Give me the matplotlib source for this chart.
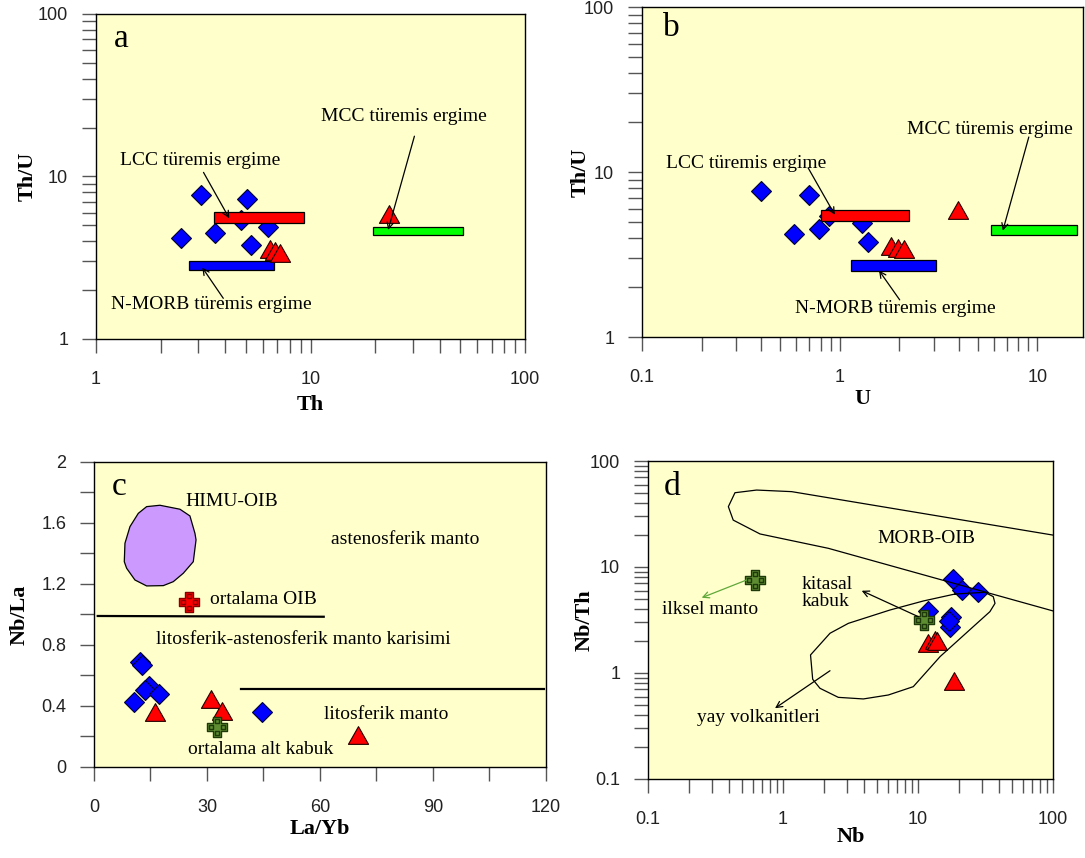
import matplotlib
matplotlib.use("Agg")
import matplotlib.pyplot as plt
from matplotlib.path import Path
from matplotlib.ticker import LogLocator, FuncFormatter, NullFormatter, MultipleLocator

# ---- data ----
# panels a and b (Th, U in ppm)
th_dia = [3.08, 5.06, 2.48, 3.57, 4.76, 6.36, 5.26]
u_dia = [0.40, 0.70, 0.59, 0.79, 0.88, 1.30, 1.39]
th_tri = [23.2, 6.5, 6.8, 7.2]
u_tri = [3.95, 1.82, 1.96, 2.12]

# melt fields: (x0, x1, y0, y1)
bars_a = {"lcc": (3.56, 9.36, 5.20, 6.02),
          "nmorb": (2.70, 6.74, 2.65, 3.02),
          "mcc": (19.5, 51.6, 4.36, 4.87)}
bars_b = {"lcc": (0.80, 2.24, 5.07, 5.85),
          "nmorb": (1.146, 3.08, 2.50, 2.94),
          "mcc": (5.79, 15.8, 4.15, 4.75)}

# panel c (La/Yb vs Nb/La)
layb_dia = [12.2, 12.7, 14.7, 13.5, 17.3, 10.7, 44.5]
nbla_dia = [0.690, 0.667, 0.531, 0.505, 0.479, 0.424, 0.363]
layb_tri = [31.2, 34.1, 16.3, 70.0]
nbla_tri = [0.448, 0.367, 0.361, 0.208]
oib_avg = (25.2, 1.084)
lower_crust = (32.7, 0.260)
himu_x = [13.98, 17.52, 22.83, 25.48, 26.81, 27.1, 26.37, 23.71, 21.06, 18.41,
          13.98, 10.88, 8.67, 8.05, 8.23, 9.56, 11.77]
himu_y = [1.707, 1.716, 1.690, 1.646, 1.532, 1.489, 1.346, 1.270, 1.215, 1.189,
          1.187, 1.226, 1.303, 1.346, 1.467, 1.576, 1.663]
line_upper_x = [1, 61]
line_upper_y = [0.990, 0.985]
line_lower_x = [39, 119.5]
line_lower_y = [0.513, 0.513]

# panel d (Nb vs Nb/Th)
nb_dia = [18.1, 21.1, 27.7, 11.8, 17.5, 17.3, 17.0]
nbth_dia = [7.65, 6.07, 5.85, 3.85, 3.35, 2.70, 3.10]
nb_tri = [11.9, 13.4, 13.9, 18.5]
nbth_tri = [1.91, 2.05, 2.00, 0.836]
prim_mantle = (0.62, 7.54)
cont_crust = (11.0, 3.16)
morb_x = [100, 1.16, 0.638, 0.441, 0.394, 0.428, 0.676, 2.17, 100]
morb_y = [20.0, 51.4, 53.2, 50.2, 37.1, 27.7, 20.5, 15.0, 3.85]
arc_x = [18.8, 31.3, 36.1, 37.2, 34.1, 25.7, 14.6, 9.23, 6.03, 3.94, 2.57, 1.88,
         1.66, 1.60, 2.23, 3.05, 6.21, 10.96, 18.8]
arc_y = [5.56, 5.77, 5.25, 4.54, 3.79, 2.74, 1.43, 0.743, 0.620, 0.569, 0.589, 0.717,
         0.872, 1.48, 2.37, 2.94, 3.93, 4.78, 5.56]

# ---- style ----
BG = "#FFFFCC"
SERIF = "Liberation Serif"
SANS = "Liberation Sans"
plt.rcParams["font.family"] = SANS

tri_marker = Path([(0, 0.88), (-1, -0.88), (1, -0.88), (0, 0.88)],
                  [Path.MOVETO, Path.LINETO, Path.LINETO, Path.CLOSEPOLY])

# plus sign with four square holes
w = 0.36
plus_v = [(-w, 1), (w, 1), (w, w), (1, w), (1, -w), (w, -w), (w, -1), (-w, -1),
          (-w, -w), (-1, -w), (-1, w), (-w, w), (-w, 1)]
plus_c = [Path.MOVETO] + [Path.LINETO] * 11 + [Path.CLOSEPOLY]
hole_v, hole_c = [], []
s = 0.19
for cx, cy in [(0, 0.6), (0.6, 0), (0, -0.6), (-0.6, 0)]:
    hole_v += [(cx - s, cy - s), (cx - s, cy + s), (cx + s, cy + s), (cx + s, cy - s), (cx - s, cy - s)]
    hole_c += [Path.MOVETO, Path.LINETO, Path.LINETO, Path.LINETO, Path.CLOSEPOLY]
plus_solid = Path(plus_v, plus_c)
plus_holes = Path(plus_v + hole_v, plus_c + hole_c)


def cross(ax, x, y, face, edge):
    ax.plot([x], [y], marker=plus_solid, ms=15, mfc="white", mec="none", ls="none", zorder=6)
    ax.plot([x], [y], marker=plus_holes, ms=15, mfc=face, mec=edge, mew=1.0, ls="none", zorder=6)


def setup(ax, logx, logy):
    ax.set_facecolor(BG)
    for sp in ax.spines.values():
        sp.set_linewidth(1.0)
        sp.set_color("black")
    if logx:
        ax.set_xscale("log")
        ax.xaxis.set_major_locator(LogLocator(base=10))
        ax.xaxis.set_minor_locator(LogLocator(base=10, subs=range(2, 10)))
        ax.xaxis.set_major_formatter(FuncFormatter(lambda v, p: f"{v:g}"))
        ax.xaxis.set_minor_formatter(NullFormatter())
    if logy:
        ax.set_yscale("log")
        ax.yaxis.set_major_locator(LogLocator(base=10))
        ax.yaxis.set_minor_locator(LogLocator(base=10, subs=range(2, 10)))
        ax.yaxis.set_major_formatter(FuncFormatter(lambda v, p: f"{v:g}"))
        ax.yaxis.set_minor_formatter(NullFormatter())
    ax.tick_params(which="both", direction="out", length=10, width=1.0, color="#555555",
                   labelsize=13, labelcolor="#222222", top=False, right=False)
    ax.tick_params(axis="x", which="both", pad=13)
    ax.tick_params(axis="y", which="both", pad=10)


def label(ax, xl, yl, xc, yc):
    ax.set_xlabel(xl, fontfamily=SERIF, fontweight="bold", fontsize=16)
    ax.set_ylabel(yl, fontfamily=SERIF, fontweight="bold", fontsize=16)
    ax.xaxis.set_label_coords(0.5, xc)
    ax.yaxis.set_label_coords(yc, 0.5)


def txt(ax, x, y, s, **kw):
    ax.text(x, y, s, fontfamily=SERIF, fontsize=14, ha=kw.pop("ha", "center"),
            va="center", zorder=7, **kw)


def arrow(ax, start, tip, color="black"):
    ax.annotate("", xy=tip, xytext=start, zorder=8,
                arrowprops=dict(arrowstyle="->", color=color, lw=0.9,
                                shrinkA=0, shrinkB=0, mutation_scale=11))


def bar(ax, b, color):
    x0, x1, y0, y1 = b
    ax.fill([x0, x1, x1, x0], [y0, y0, y1, y1], facecolor=color, edgecolor="black",
            lw=0.9, zorder=3)


def points(ax, xd, yd, xt, yt):
    ax.plot(xd, yd, ls="none", marker="D", ms=10.5, mfc="#0000FF", mec="#000033",
            mew=0.8, zorder=2)
    ax.plot(xt, yt, ls="none", marker=tri_marker, ms=14.5, mfc="#FF0000", mec="#220000",
            mew=0.8, zorder=4)


fig = plt.figure(figsize=(10.85, 8.58), dpi=100)
ax_a = fig.add_axes([0.0885, 0.6049, 0.3954, 0.3788])
ax_b = fig.add_axes([0.5917, 0.6072, 0.4065, 0.3846])
ax_c = fig.add_axes([0.0866, 0.1061, 0.4166, 0.3555])
ax_d = fig.add_axes([0.5972, 0.0921, 0.3733, 0.3706])

# ---- panel a ----
setup(ax_a, True, True)
ax_a.set_xlim(1, 100)
ax_a.set_ylim(1, 100)
thu_dia = [t / u for t, u in zip(th_dia, u_dia)]
thu_tri = [t / u for t, u in zip(th_tri, u_tri)]
points(ax_a, th_dia, thu_dia, th_tri, thu_tri)
bar(ax_a, bars_a["lcc"], "#FF0000")
bar(ax_a, bars_a["nmorb"], "#0000FF")
bar(ax_a, bars_a["mcc"], "#00FF00")
txt(ax_a, 27.1, 23.3, "MCC türemis ergime")
arrow(ax_a, (30.5, 17.7), (23.0, 4.69))
txt(ax_a, 3.05, 12.5, "LCC türemis ergime")
arrow(ax_a, (3.17, 10.6), (4.18, 5.53))
txt(ax_a, 3.46, 1.62, "N-MORB türemis ergime")
arrow(ax_a, (3.92, 1.78), (3.13, 2.75))
ax_a.text(0.058, 0.925, "a", transform=ax_a.transAxes, fontfamily=SERIF, fontsize=24,
          ha="center", va="center")
label(ax_a, "Th", "Th/U", -0.172, -0.135)

# ---- panel b ----
setup(ax_b, True, True)
ax_b.set_xlim(0.1, 17)
ax_b.set_ylim(1, 100)
points(ax_b, u_dia, thu_dia, u_tri, thu_tri)
bar(ax_b, bars_b["lcc"], "#FF0000")
bar(ax_b, bars_b["nmorb"], "#0000FF")
bar(ax_b, bars_b["mcc"], "#00FF00")
txt(ax_b, 5.73, 18.2, "MCC türemis ergime")
arrow(ax_b, (9.04, 16.3), (6.68, 4.41))
txt(ax_b, 0.338, 11.2, "LCC türemis ergime")
arrow(ax_b, (0.692, 10.6), (0.944, 5.51))
txt(ax_b, 1.90, 1.49, "N-MORB türemis ergime")
arrow(ax_b, (2.01, 1.68), (1.58, 2.53))
ax_b.text(0.067, 0.936, "b", transform=ax_b.transAxes, fontfamily=SERIF, fontsize=24,
          ha="center", va="center")
label(ax_b, "U", "Th/U", -0.158, -0.116)

# ---- panel c ----
setup(ax_c, False, False)
ax_c.set_xlim(0, 120)
ax_c.set_ylim(0, 2)
ax_c.xaxis.set_major_locator(MultipleLocator(30))
ax_c.xaxis.set_minor_locator(MultipleLocator(15))
ax_c.yaxis.set_major_locator(MultipleLocator(0.4))
ax_c.yaxis.set_minor_locator(MultipleLocator(0.2))
ax_c.xaxis.set_major_formatter(FuncFormatter(lambda v, p: f"{v:g}"))
ax_c.yaxis.set_major_formatter(FuncFormatter(lambda v, p: f"{v:g}"))
ax_c.fill(himu_x, himu_y, facecolor="#CC99FF", edgecolor="black", lw=0.9, zorder=2)
ax_c.plot(line_upper_x, line_upper_y, color="black", lw=1.6, zorder=2)
ax_c.plot(line_lower_x, line_lower_y, color="black", lw=1.6, zorder=2)
points(ax_c, layb_dia, nbla_dia, layb_tri, nbla_tri)
cross(ax_c, *oib_avg, "#FF0000", "#880000")
cross(ax_c, *lower_crust, "#5E8C31", "#1E3A0A")
txt(ax_c, 36.7, 1.740, "HIMU-OIB")
txt(ax_c, 82.6, 1.493, "astenosferik manto")
txt(ax_c, 30.8, 1.100, "ortalama OIB", ha="left")
txt(ax_c, 55.6, 0.833, "litosferik-astenosferik manto karisimi")
txt(ax_c, 77.7, 0.341, "litosferik manto")
txt(ax_c, 44.2, 0.116, "ortalama alt kabuk")
ax_c.text(0.055, 0.919, "c", transform=ax_c.transAxes, fontfamily=SERIF, fontsize=24,
          ha="center", va="center")
label(ax_c, "La/Yb", "Nb/La", -0.170, -0.142)

# ---- panel d ----
setup(ax_d, True, True)
ax_d.set_xlim(0.1, 100)
ax_d.set_ylim(0.1, 100)
points(ax_d, nb_dia, nbth_dia, nb_tri, nbth_tri)
ax_d.plot(morb_x, morb_y, color="black", lw=0.9, zorder=5)
ax_d.plot(arc_x, arc_y, color="black", lw=0.9, zorder=5)
cross(ax_d, *prim_mantle, "#5E8C31", "#1E3A0A")
cross(ax_d, *cont_crust, "#5E8C31", "#1E3A0A")
txt(ax_d, 11.5, 18.7, "MORB-OIB")
txt(ax_d, 0.288, 3.99, "ilksel manto")
arrow(ax_d, (0.538, 7.54), (0.25, 5.13), color="#5FA83A")
txt(ax_d, 1.37, 5.69, "kitasal\nkabuk", ha="left", linespacing=1.05)
arrow(ax_d, (10.05, 3.40), (3.83, 5.97))
txt(ax_d, 0.656, 0.379, "yay volkanitleri")
arrow(ax_d, (2.23, 1.05), (0.873, 0.465))
ax_d.text(0.059, 0.919, "d", transform=ax_d.transAxes, fontfamily=SERIF, fontsize=24,
          ha="center", va="center")
label(ax_d, "Nb", "Nb/Th", -0.151, -0.131)

fig.savefig("out.png", dpi=100)
